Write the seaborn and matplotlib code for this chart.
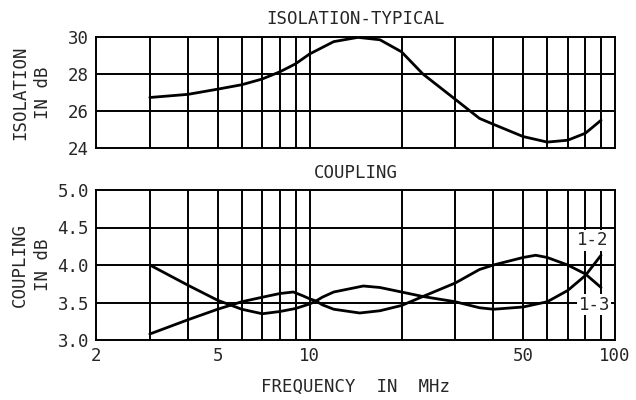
import pandas as pd
import numpy as np
import matplotlib.pyplot as plt
import seaborn as sns

# isolation curve
freq_iso = [3, 4, 5, 6, 7, 8, 9, 10, 12, 14.4, 17, 20, 23.5, 30, 36, 40, 50, 60, 70, 80, 90]
isolation = [26.73, 26.9, 27.18, 27.42, 27.73, 28.12, 28.55, 29.08, 29.75, 29.98,
             29.85, 29.2, 28.0, 26.63, 25.6, 25.28, 24.62, 24.32, 24.42, 24.8, 25.5]

# coupling curves
freq_13 = [3, 4, 5, 6, 7, 8, 8.85, 9.5, 10, 10.5, 11, 12, 14.6, 17, 20, 23.5, 30, 36,
           40, 50, 55, 60, 70, 80, 90]
coup_13 = [3.08, 3.27, 3.41, 3.51, 3.57, 3.62, 3.64, 3.59, 3.55, 3.52, 3.47, 3.41, 3.36,
           3.39, 3.46, 3.58, 3.76, 3.94, 4.0, 4.1, 4.13, 4.1, 4.0, 3.88, 3.70]
freq_12 = [3, 4, 5, 6, 7, 8, 9, 10, 10.5, 11, 12, 15, 17, 20, 23.5, 30, 36, 40, 50,
           60, 70, 80, 90]
coup_12 = [4.0, 3.73, 3.53, 3.41, 3.35, 3.38, 3.42, 3.48, 3.52, 3.57, 3.64, 3.72, 3.7,
           3.64, 3.58, 3.51, 3.43, 3.41, 3.44, 3.51, 3.66, 3.86, 4.13]

grid_x = [3, 4, 5, 6, 7, 8, 9, 10, 20, 30, 40, 50, 60, 70, 80, 90]
xticks = [2, 5, 10, 50, 100]
iso_ticks = [24, 26, 28, 30]
coup_ticks = [3.0, 3.5, 4.0, 4.5, 5.0]

sns.set_style("white")
plt.rcParams['font.family'] = ['DejaVu Sans Mono', 'DejaVu Sans']

fig = plt.figure(figsize=(6.36, 4.0), dpi=100)
ax1 = fig.add_axes([0.151, 0.63, 0.816, 0.2775])
ax2 = fig.add_axes([0.151, 0.15, 0.816, 0.375])

lw_grid = 1.4
for ax, yt in [(ax1, iso_ticks), (ax2, coup_ticks)]:
    ax.set_xscale("log")
    ax.set_xlim(2, 100)
    ax.set_ylim(yt[0], yt[-1])
    for g in grid_x:
        ax.axvline(g, color="black", lw=lw_grid, zorder=1)
    for t in yt[1:-1]:
        ax.axhline(t, color="black", lw=lw_grid, zorder=1)
    for s in ax.spines.values():
        s.set_color("black")
        s.set_linewidth(lw_grid)
    ax.set_yticks(yt)
    ax.tick_params(length=0, labelsize=12.5, pad=5)

sns.lineplot(x=freq_iso, y=isolation, ax=ax1, color="black", lw=2, zorder=3)
sns.lineplot(x=freq_12, y=coup_12, ax=ax2, color="black", lw=2, zorder=3)
sns.lineplot(x=freq_13, y=coup_13, ax=ax2, color="black", lw=2, zorder=3)

ax1.set_xticks(xticks)
ax1.set_xticklabels([])
ax1.minorticks_off()
ax2.set_xticks(xticks)
ax2.set_xticklabels([str(x) for x in xticks])
ax2.minorticks_off()
ax1.set_yticklabels([str(t) for t in iso_ticks])
ax2.set_yticklabels(["%.1f" % t for t in coup_ticks])

ax1.set_title("ISOLATION-TYPICAL", fontsize=12.5, pad=9)
ax2.set_title("COUPLING", fontsize=12.5, pad=9)

# two-line y labels, placed in figure pixels
for ax, txt in [(ax1, "ISOLATION"), (ax2, "COUPLING")]:
    pos = ax.get_position()
    yc = pos.y0 + pos.height / 2
    fig.text(20 / 636, yc, txt, rotation=90, ha="center", va="center", fontsize=12.5)
    fig.text(43 / 636, yc, "IN dB", rotation=90, ha="center", va="center", fontsize=12.5)

ax2.set_xlabel("FREQUENCY  IN  MHz", fontsize=12.5, labelpad=9)

box = dict(facecolor="white", edgecolor="none", pad=1)
ax2.text(84.7, 4.33, "1-2", ha="center", va="center", fontsize=12.5, bbox=box, zorder=4)
ax2.text(85.5, 3.47, "1-3", ha="center", va="center", fontsize=12.5, bbox=box, zorder=4)

plt.savefig("out.png", dpi=100)
